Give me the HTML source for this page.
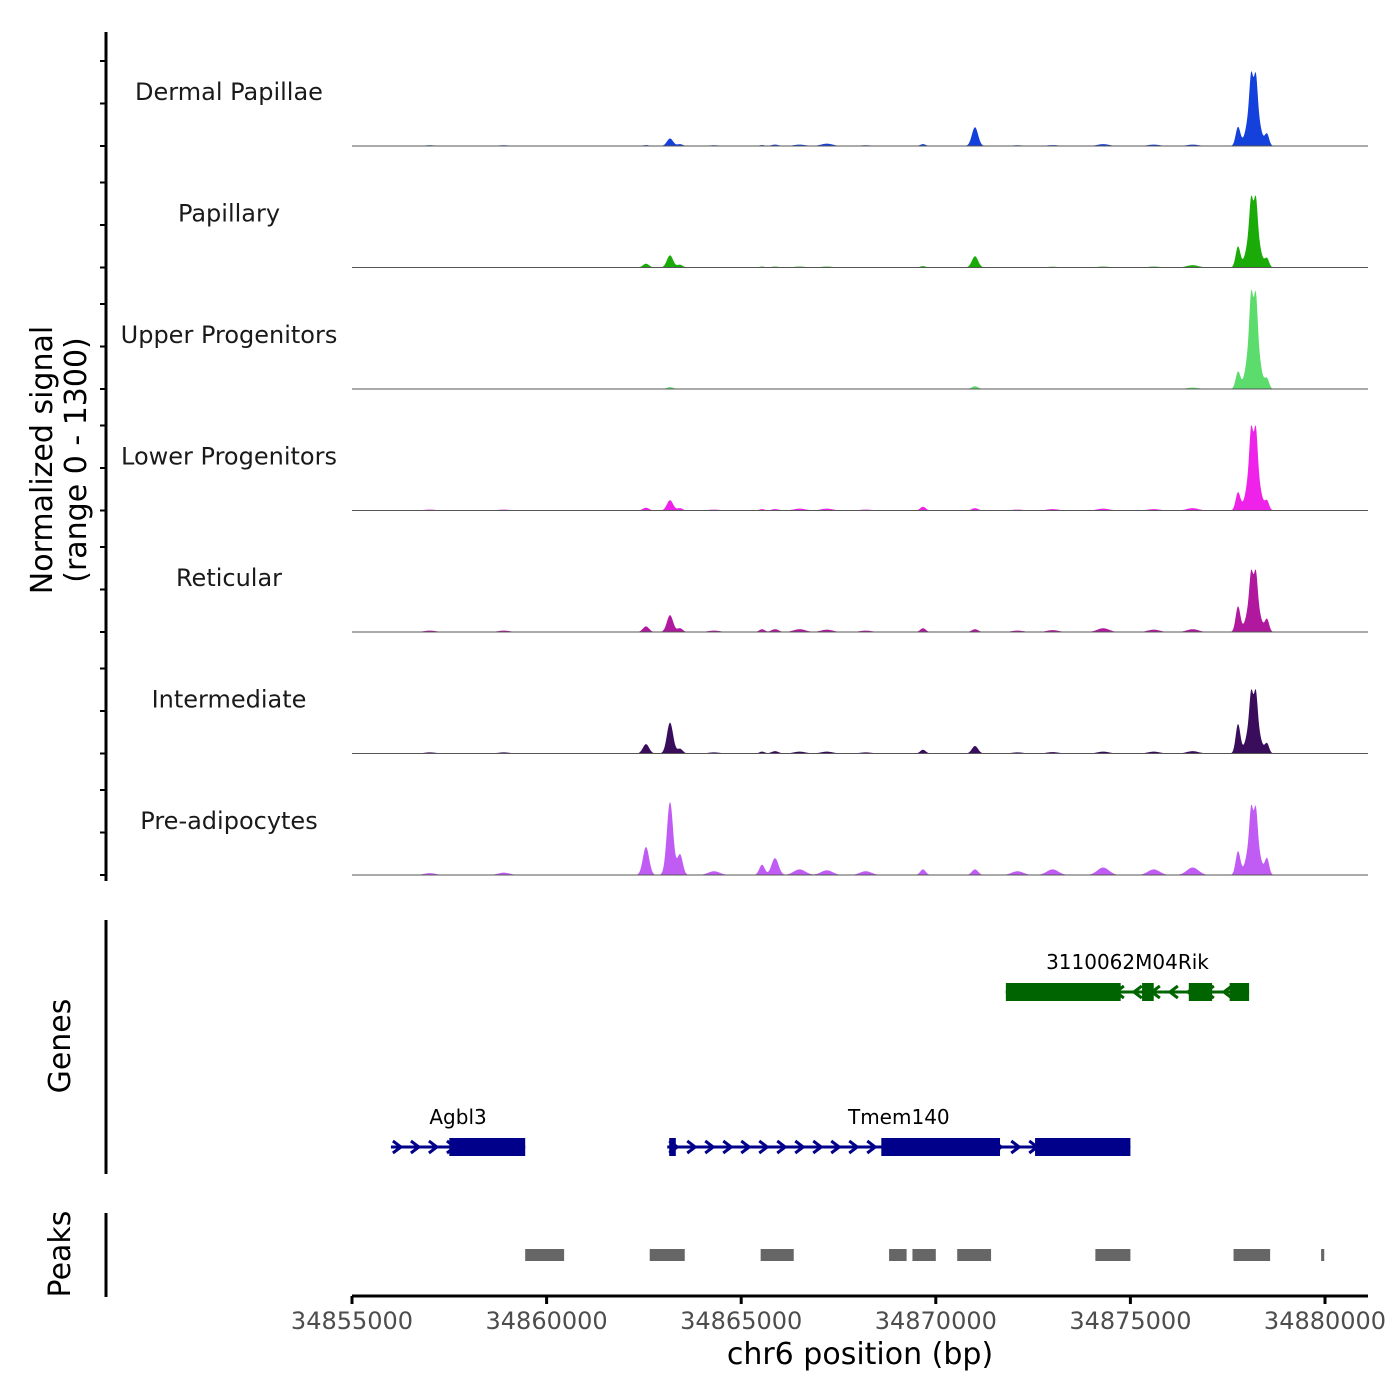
<!DOCTYPE html>
<html><head><meta charset="utf-8"><style>
html,body{margin:0;padding:0;background:#fff;}
svg{display:block;font-family:"DejaVu Sans","Liberation Sans",sans-serif;}
</style></head><body>
<svg id="chart" width="1400" height="1400" viewBox="0 0 1400 1400" xmlns="http://www.w3.org/2000/svg">
<g id="tracks"></g>
<g id="genes"></g>
<g id="peaks"></g>
<g id="axes"></g>
</svg>
<script>
// ---- data ----
const xDomain = [34855000, 34881100];
const xTicks = [34855000, 34860000, 34865000, 34870000, 34875000, 34880000];
const yMax = 1300;
const trackNames = ["Dermal Papillae","Papillary","Upper Progenitors","Lower Progenitors","Reticular","Intermediate","Pre-adipocytes"];
const trackColors = ["#1440dc","#1aab08","#5cdc6c","#ee22e8","#b0189e","#3a0c5c","#c05cf4"];
// peak centers (bp) and widths (bp sigma)
const peakPos =   [34863171,34862554,34863428,34865869,34865535,34871007,34869671,34877765,34878160,34878099,34878227,34878510,34857000,34858900,34866500,34867200,34873000,34874300,34875600,34876600,34864300,34868200,34872100];
const peakSigma = [80,       80,      70,      90,      70,      80,      70,      60,      130,     40,      40,      55,      150,     150,     150,     150,     150,     150,     150,     150,     150,     150,     150];
const dermal       = [80, 10, 20, 15, 10, 200, 20, 200, 600, 250, 250, 120, 8, 8, 15, 25, 10, 20, 15, 15, 8, 8, 8];
const papillary    = [130, 40, 30, 10, 10, 120, 15, 220, 580, 240, 250, 90, 5, 5, 10, 10, 8, 10, 10, 25, 5, 5, 5];
const upperProg    = [20, 5, 5, 5, 5, 30, 5, 180, 800, 330, 330, 100, 3, 3, 3, 3, 3, 5, 5, 15, 3, 3, 3];
const lowerProg    = [110, 30, 25, 15, 15, 25, 40, 190, 680, 290, 300, 95, 10, 10, 20, 20, 15, 20, 15, 25, 10, 10, 10];
const reticular    = [180, 60, 40, 30, 30, 30, 40, 270, 500, 210, 220, 130, 15, 15, 30, 25, 20, 40, 25, 30, 15, 15, 15];
const intermediate = [330, 100, 50, 25, 20, 80, 40, 310, 510, 220, 230, 100, 12, 12, 20, 20, 15, 20, 20, 25, 12, 12, 12];
const preadip      = [780, 300, 220, 180, 110, 60, 60, 250, 560, 240, 240, 170, 20, 25, 60, 50, 60, 80, 60, 80, 40, 40, 40];
const trackValues = [dermal,papillary,upperProg,lowerProg,reticular,intermediate,preadip];
const geneNames = ["3110062M04Rik","Agbl3","Tmem140"];
const geneStarts = [34871800, 34856000, 34863100];
const geneEnds = [34878050, 34859450, 34875000];
const geneStrand = [-1, 1, 1];
const geneRow = [0, 1, 1];
const geneColors = ["#006400","#00008b","#00008b"];
const exonGene = [0,0,0,0, 1, 2,2,2];
const exonStarts = [34871800,34875300,34876500,34877550, 34857500, 34863150,34868600,34872550];
const exonEnds =   [34874750,34875600,34877100,34878050, 34859450, 34863320,34871650,34875000];
const peakStarts = [34859450,34862650,34865500,34868800,34869400,34870550,34874100,34877650,34879900];
const peakEnds =   [34860450,34863550,34866350,34869250,34870000,34871420,34875000,34878590,34879980];

// ---- scales ----
const X0=352, PXPERBP=973/25000;
const xs = bp => X0 + (bp - xDomain[0]) * PXPERBP;
const base0 = 146, trackH = 121.5;
const NS="http://www.w3.org/2000/svg";
function mk(tag, attrs, parent){const e=document.createElementNS(NS,tag);for(const k in attrs)e.setAttribute(k,attrs[k]);parent.appendChild(e);return e;}

const gT=document.getElementById('tracks');
trackNames.forEach((name,t)=>{
  const base = base0 + t*trackH;
  const vals = trackValues[t];
  let d = `M${X0},${base}`;
  for(let px=X0; px<=1368; px+=0.5){
    const bp = xDomain[0] + (px-X0)/PXPERBP;
    let s=0;
    for(let i=0;i<peakPos.length;i++){const z=(bp-peakPos[i])/peakSigma[i]; s+=vals[i]*Math.exp(-0.5*z*z);}
    d += `L${px},${(base - s/yMax*trackH).toFixed(2)}`;
  }
  d += `L1368,${base}Z`;
  const p = mk('path',{d:d,fill:trackColors[t]},gT);
  
  
  const bl = mk('line',{x1:X0,x2:1368,y1:base,y2:base,stroke:'#555','stroke-width':1},gT);
  
  
  const lb = mk('text',{x:229,y:base-46,'text-anchor':'middle','font-size':24,fill:'#1a1a1a'},gT);
  lb.textContent=name;
  
  
});

// genes
const gG=document.getElementById('genes');
const rowY=[992,1147];
geneNames.forEach((g,i)=>{
  const y=rowY[geneRow[i]], c=geneColors[i];
  const x1=xs(geneStarts[i]), x2=xs(geneEnds[i]);
  const ln=mk('line',{x1:x1,x2:x2,y1:y,y2:y,stroke:c,'stroke-width':3},gG);
  
  
  for(let ax=x1+6; ax<x2-4; ax+=18){
    const dir=geneStrand[i];
    const a=mk('path',{d:`M${ax-4*dir},${y-6}L${ax+4*dir},${y}L${ax-4*dir},${y+6}`,fill:'none',stroke:c,'stroke-width':3},gG);
    
    
  }
  const lbl=mk('text',{x:(x1+x2)/2,y:y-23,'text-anchor':'middle','font-size':20,fill:'#000'},gG);
  lbl.textContent=g;
  
  
});
exonGene.forEach((gi,k)=>{
  const y=rowY[geneRow[gi]];
  const r=mk('rect',{x:xs(exonStarts[k]),y:y-9,width:xs(exonEnds[k])-xs(exonStarts[k]),height:18,fill:geneColors[gi]},gG);
  
  
});

// peaks
const gP=document.getElementById('peaks');
peakStarts.forEach((s,k)=>{
  const r=mk('rect',{x:xs(s),y:1249,width:xs(peakEnds[k])-xs(s),height:12,fill:'#666'},gP);
  
  
});

// axes
const gA=document.getElementById('axes');
function line(x1,y1,x2,y2,w,name){const l=mk('line',{x1,y1,x2,y2,stroke:'#000','stroke-width':w},gA);return l;}
line(106,32,106,881,3,'y-axis-line');
for(let t=0;t<7;t++){const b=base0+t*trackH;[0,42.5,85].forEach(o=>line(100,b-o,106,b-o,2,'y-axis-tick'));}
line(106,920,106,1174,3,'genes-axis-line');
line(106,1213,106,1297,3,'peaks-axis-line');
line(352,1296,1368,1296,3,'x-axis-line');
xTicks.forEach(v=>{
  line(xs(v),1296,xs(v),1304,3,'x-axis-tick');
  const t=mk('text',{x:xs(v),y:1329,'text-anchor':'middle','font-size':24,fill:'#4d4d4d'},gA);
  t.textContent=v;
  
  
});
function txt(s,x,y,size,name,rot){const t=mk('text',{x,y,'text-anchor':'middle','font-size':size,fill:'#000'},gA);if(rot)t.setAttribute('transform',`rotate(-90 ${x} ${y})`);t.textContent=s;return t;}
txt('chr6 position (bp)',860,1364,30,'x-axis-title');
txt('Normalized signal',52,460,30,'y-axis-title',true);
txt('(range 0 - 1300)',86,460,30,'y-axis-subtitle',true);
txt('Genes',70,1046,30,'genes-axis-title',true);
txt('Peaks',70,1254,30,'peaks-axis-title',true);
</script>
</body></html>
